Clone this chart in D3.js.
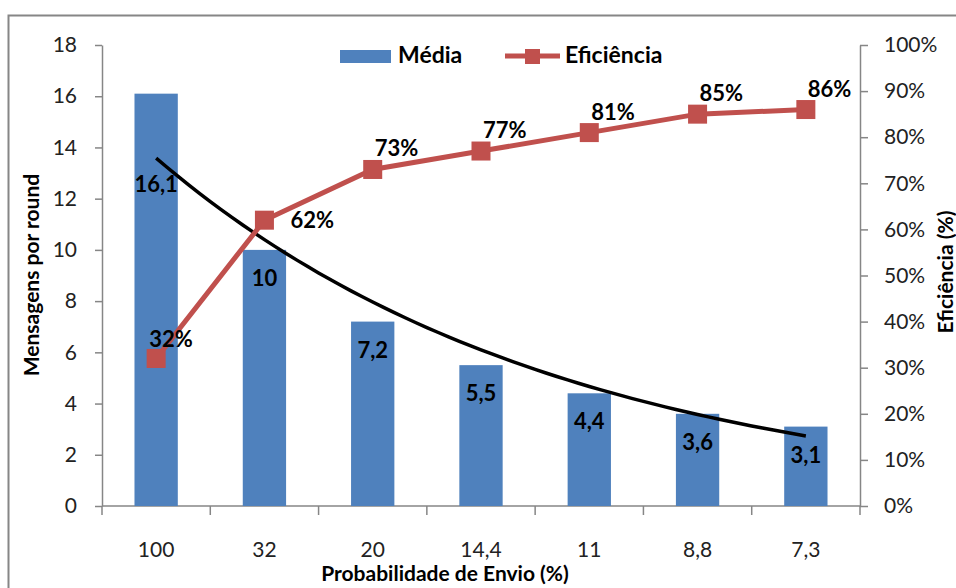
<!DOCTYPE html>
<html>
<head>
<meta charset="utf-8">
<script src="https://cdn.jsdelivr.net/npm/d3@7"></script>
<style>
  html, body { margin: 0; padding: 0; background: #fff; }
  svg { display: block; }
  text { font-family: Lato, "Open Sans", sans-serif; }
</style>
</head>
<body>
<svg id="chart" width="956" height="588"></svg>
<script>
// ---- data ----
const categories = ["100", "32", "20", "14,4", "11", "8,8", "7,3"];
const media = [16.1, 10, 7.2, 5.5, 4.4, 3.6, 3.1];
const eficiencia = [32, 62, 73, 77, 81, 85, 86];
const leftTicks = [0, 2, 4, 6, 8, 10, 12, 14, 16, 18];
const rightTicks = [0, 10, 20, 30, 40, 50, 60, 70, 80, 90, 100];
const seriesNames = ["Média", "Eficiência"];

// ---- layout ----
const svg = d3.select("#chart");
const W = 956, H = 588;
const plot = { left: 102, right: 860, top: 45, bottom: 506 };
const axisColor = "#868686";
const barColor = "#4F81BD";
const lineColor = "#C0504D";
const fmt = v => String(v).replace(".", ",");

// outer border
svg.append("rect")
  .attr("x", 8.5).attr("y", 15.5)
  .attr("width", W + 20).attr("height", H + 20)
  .attr("fill", "none").attr("stroke", axisColor).attr("stroke-width", 2);

const x = d3.scaleBand().domain(categories).range([plot.left, plot.right]).padding(0);
const yL = d3.scaleLinear().domain([0, 18]).range([plot.bottom, plot.top]);
const yR = d3.scaleLinear().domain([0, 100]).range([plot.bottom, plot.top]);

// left axis
const gL = svg.append("g").attr("transform", `translate(${plot.left},0)`)
  .call(d3.axisLeft(yL).tickValues(leftTicks).tickSize(7).tickPadding(18).tickSizeOuter(0));
// right axis
const gR = svg.append("g").attr("transform", `translate(${plot.right},0)`)
  .call(d3.axisRight(yR).tickValues(rightTicks).tickSize(8).tickPadding(16).tickSizeOuter(0)
    .tickFormat(d => d + "%"));
[gL, gR].forEach(g => {
  g.select(".domain").attr("stroke", axisColor).attr("stroke-width", 1.5);
  g.selectAll(".tick line").attr("stroke", axisColor).attr("stroke-width", 1.5);
  g.selectAll(".tick text").attr("font-size", 21).attr("fill", "#222")
    .attr("font-family", "Lato, sans-serif");
});

// x axis: baseline + boundary ticks
svg.append("line")
  .attr("x1", plot.left).attr("x2", plot.right)
  .attr("y1", plot.bottom).attr("y2", plot.bottom)
  .attr("stroke", axisColor).attr("stroke-width", 1.5);
const boundaries = categories.map(c => x(c)).concat([x(categories[categories.length - 1]) + x.bandwidth()]);
svg.append("g").selectAll("line").data(boundaries).join("line")
  .attr("x1", d => d).attr("x2", d => d)
  .attr("y1", plot.bottom).attr("y2", plot.bottom + 9)
  .attr("stroke", axisColor).attr("stroke-width", 1.5);
svg.append("g").selectAll("text").data(categories).join("text")
  .attr("x", d => x(d) + x.bandwidth() / 2)
  .attr("y", 557)
  .attr("text-anchor", "middle")
  .attr("font-size", 21).attr("fill", "#222")
  .text(d => d);

// bars
const barW = x.bandwidth() * 0.4;
svg.append("g").selectAll("rect").data(media).join("rect")
  .attr("x", (d, i) => x(categories[i]) + x.bandwidth() / 2 - barW / 2)
  .attr("y", d => yL(d))
  .attr("width", barW)
  .attr("height", d => yL(0) - yL(d))
  .attr("fill", barColor);

// exponential trendline fitted to the bar values
const n = media.length;
const xs = d3.range(1, n + 1);
const lnY = media.map(Math.log);
const mx = d3.mean(xs), my = d3.mean(lnY);
const b = d3.sum(xs, (v, i) => (v - mx) * (lnY[i] - my)) / d3.sum(xs, v => (v - mx) ** 2);
const a = my - b * mx;
const xi = d3.scaleLinear().domain([1, n])
  .range([x(categories[0]) + x.bandwidth() / 2, x(categories[n - 1]) + x.bandwidth() / 2]);
const trendPts = d3.range(1, n + 0.001, 0.1).map(t => [xi(t), yL(Math.exp(a + b * t))]);
svg.append("path")
  .attr("d", d3.line()(trendPts))
  .attr("fill", "none").attr("stroke", "#000").attr("stroke-width", 3.5);

// bar labels
svg.append("g").selectAll("text").data(media).join("text")
  .attr("x", (d, i) => x(categories[i]) + x.bandwidth() / 2)
  .attr("y", (d, i) => yL(d) + (i === 0 ? 98 : 36))
  .attr("text-anchor", "middle")
  .attr("font-size", 22).attr("font-weight", "bold").attr("fill", "#000")
  .text(d => fmt(d));

// efficiency line
const cx = i => x(categories[i]) + x.bandwidth() / 2;
svg.append("path")
  .attr("d", d3.line().x((d, i) => cx(i)).y(d => yR(d))(eficiencia))
  .attr("fill", "none").attr("stroke", lineColor).attr("stroke-width", 5);
const mk = 19;
svg.append("g").selectAll("rect").data(eficiencia).join("rect")
  .attr("x", (d, i) => cx(i) - mk / 2)
  .attr("y", d => yR(d) - mk / 2)
  .attr("width", mk).attr("height", mk)
  .attr("fill", lineColor);

// efficiency labels
const effLabelOffset = i => i === 0 ? [-7, -11] : i === 1 ? [26, 8] : [2, -13];
svg.append("g").selectAll("text").data(eficiencia).join("text")
  .attr("x", (d, i) => cx(i) + effLabelOffset(i)[0])
  .attr("y", (d, i) => yR(d) + effLabelOffset(i)[1])
  .attr("font-size", 22).attr("font-weight", "bold").attr("fill", "#000")
  .text(d => d + "%");

// legend
const lg = svg.append("g");
lg.append("rect").attr("x", 340).attr("y", 50).attr("width", 51).attr("height", 13).attr("fill", barColor);
lg.append("text").attr("x", 398).attr("y", 63).attr("font-size", 23).attr("font-weight", "bold")
  .attr("fill", "#000").text(seriesNames[0]);
lg.append("line").attr("x1", 505).attr("x2", 560).attr("y1", 56).attr("y2", 56)
  .attr("stroke", lineColor).attr("stroke-width", 5);
lg.append("rect").attr("x", 525).attr("y", 49).attr("width", 15).attr("height", 15).attr("fill", lineColor);
lg.append("text").attr("x", 565).attr("y", 63).attr("font-size", 23).attr("font-weight", "bold")
  .attr("fill", "#000").text(seriesNames[1]);

// axis titles
svg.append("text")
  .attr("transform", `translate(39,275) rotate(-90)`)
  .attr("text-anchor", "middle")
  .attr("font-size", 21).attr("font-weight", "bold").attr("fill", "#000")
  .text("Mensagens por round");
svg.append("text")
  .attr("transform", `translate(953,272) rotate(-90)`)
  .attr("text-anchor", "middle")
  .attr("font-size", 21).attr("font-weight", "bold").attr("fill", "#000")
  .text("Eficiência (%)");
svg.append("text")
  .attr("x", 445).attr("y", 581)
  .attr("text-anchor", "middle")
  .attr("font-size", 21).attr("font-weight", "bold").attr("fill", "#000")
  .text("Probabilidade de Envio (%)");
</script>
</body>
</html>
